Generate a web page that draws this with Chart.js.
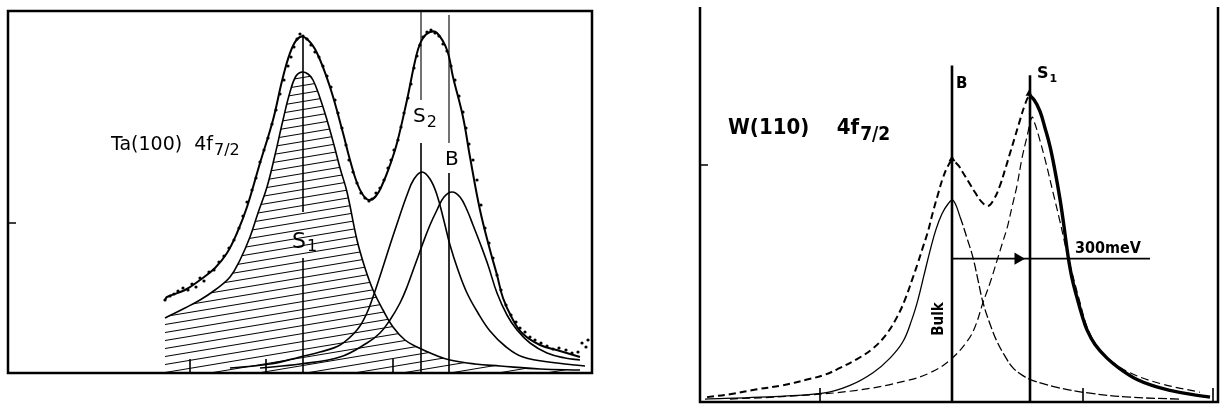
<!DOCTYPE html>
<html>
<head>
<meta charset="utf-8">
<script src="https://cdn.jsdelivr.net/npm/chart.js@4.4.0/dist/chart.umd.min.js"></script>
<style>
  body { margin: 0; background: #fff; }
  canvas { position: absolute; top: 0; }
  #taChart { left: 0; }
  #wChart { left: 690px; }
</style>
</head>
<body>
<canvas id="taChart" width="600" height="409"></canvas>
<canvas id="wChart" width="535" height="409"></canvas>
<script>
// Ta(100) 4f7/2 spectrum, [channel, counts]
const taEnvelope = [[157,73],[159,76],[177,83],[192,93],[207,105],[219,120],[229,140],[239,166],[252,210],[265,253],[275,296],[284,325],[292,336],[300,333],[309,320],[322,286],[335,240],[342,213],[349,190],[355,178],[361,173],[368,177],[375,190],[382,208],[389,230],[399,273],[409,320],[415,335],[422,341],[429,340],[439,323],[445,296],[455,256],[462,216],[472,163],[482,123],[489,98],[495,75],[504,55],[514,40],[532,28],[552,22],[572,16]];
const taS1 = [[157,55],[159,56],[177,65],[192,73],[207,83],[222,96],[232,113],[242,136],[250,160],[259,186],[267,218],[275,253],[282,281],[288,297],[294,301],[300,299],[305,293],[312,275],[319,253],[326,228],[332,205],[339,181],[349,133],[357,105],[365,83],[375,63],[385,46],[397,33],[409,26],[427,18],[442,13],[467,9],[492,7],[532,4],[572,3]];
const taS2 = [[222,5],[262,9],[292,16],[312,21],[332,28],[349,43],[358,58],[365,76],[374,103],[382,128],[390,152],[399,178],[406,194],[414,201],[422,194],[429,178],[436,152],[442,128],[450,103],[459,80],[470,60],[482,42],[497,27],[515,16],[549,10],[577,7]];
const taB = [[252,5],[292,9],[332,16],[359,30],[372,40],[382,53],[392,70],[399,86],[407,108],[415,130],[422,148],[429,163],[436,176],[444,181],[452,176],[459,163],[465,148],[472,130],[480,108],[489,80],[499,58],[509,43],[522,30],[539,20],[557,15],[572,13]];
const taDots = [[157,73],[162,77],[166,79],[170,82],[175,85],[180,83],[184,89],[188,86],[192,95],[196,92],[201,101],[206,103],[211,111],[216,117],[221,125],[226,133],[231,145],[235,157],[239,171],[244,183],[248,195],[252,211],[256,223],[260,235],[264,249],[268,263],[272,279],[276,293],[280,307],[283,316],[286,326],[289,334],[292,339],[295,337],[299,334],[303,328],[307,321],[311,316],[315,307],[319,297],[323,286],[327,273],[330,260],[334,245],[338,228],[341,213],[345,201],[349,190],[353,180],[357,175],[361,172],[364,174],[368,180],[372,185],[376,193],[380,205],[383,213],[386,223],[390,233],[393,246],[396,260],[400,275],[403,289],[406,305],[409,317],[412,328],[415,336],[419,341],[423,343],[427,340],[431,337],[435,329],[439,322],[443,307],[447,293],[451,277],[455,261],[458,245],[461,229],[465,213],[469,193],[473,168],[477,145],[481,130],[485,115],[489,98],[493,83],[498,68],[503,58],[508,51],[512,45],[517,41],[522,36],[527,33],[533,30],[539,27],[545,24],[551,25],[558,23],[564,20],[570,21],[574,30],[578,26],[580,33]];
// peak marker lines: channel, then [top, bottom] pieces in counts
const taPeakNames = ['S1', 'S2', 'B'];
const taPeakChannels = [295, 413, 441];
const taPeakPieces = [[[336,161],[115,0]], [[362,273],[230,0]], [[358,230],[200,0]]];
const taTicksX = [182, 258, 385];
const taTicksY = [150];

// W(110) 4f7/2 spectrum
const wEnvelope = [[7,5],[30,8],[57,13],[82,17],[107,23],[125,28],[140,35],[157,44],[173,55],[186,69],[197,87],[205,105],[212,125],[218,143],[223,159],[228,175],[233,195],[238,213],[243,230],[248,242],[252,247],[258,243],[263,235],[269,225],[275,215],[281,206],[288,201],[294,208],[300,222],[305,238],[310,255],[315,272],[320,289],[325,305],[329,313],[334,310],[340,298],[345,281],[350,262],[355,237],[360,208],[364,180],[368,150],[372,127],[377,107],[382,89],[387,74],[395,59],[407,45],[420,34],[437,23],[455,16],[470,12],[490,8],[510,5]];
const wBulk = [[5,3],[60,5],[123,9],[150,17],[173,30],[190,45],[203,62],[212,85],[218,105],[224,130],[230,155],[236,177],[242,193],[248,203],[253,207],[260,190],[267,168],[273,148],[278,125],[283,102],[290,80],[297,62],[305,47],[313,35],[323,27],[333,22],[357,15],[390,9],[430,5],[480,3]];
const wS1 = [[30,3],[90,6],[157,12],[207,22],[230,30],[250,43],[267,62],[275,77],[283,102],[290,122],[297,145],[303,165],[307,178],[312,200],[317,222],[322,250],[327,272],[332,292],[335,285],[340,268],[346,245],[353,215],[360,185],[367,153],[374,125],[380,102],[387,77],[397,57],[410,43],[430,30],[460,19],[500,10]];
const wPeakChannels = [252, 330];
const wPeakTops = [345, 335];
const wShift = [252, 450];   // 300 meV bar, from B to beyond S1
const wShiftLevel = 147;
const wTicksX = [120, 383, 513];
const wTicksY = [243];

function pts(arr) {
    return arr.map(p => ({ x: p[0], y: p[1] }));
}

function hatchPattern() {
    const c = document.createElement('canvas');
    c.width = 48; c.height = 8;
    const g = c.getContext('2d');
    g.strokeStyle = '#000';
    g.lineWidth = 1;
    g.beginPath();
    for (let k = -1; k <= 1; k++) {
        g.moveTo(0, 8 + k * 8);
        g.lineTo(48, k * 8);
    }
    g.stroke();
    return g.createPattern(c, 'repeat');
}

// frame, ticks and hand lettering
const framePlugin = {
    id: 'frame',
    afterDraw(chart, args, opts) {
        const { ctx, chartArea: a, scales: { x, y } } = chart;
        ctx.save();
        ctx.strokeStyle = '#000';
        ctx.fillStyle = '#000';
        ctx.lineWidth = 2.5;
        ctx.beginPath();
        if (opts.top) {
            ctx.rect(a.left, a.top, a.right - a.left, a.bottom - a.top);
        } else {
            ctx.moveTo(a.left, a.top);
            ctx.lineTo(a.left, a.bottom);
            ctx.lineTo(a.right, a.bottom);
            ctx.lineTo(a.right, a.top);
        }
        ctx.stroke();

        ctx.lineWidth = 1.6;
        ctx.beginPath();
        opts.ticksX.forEach(v => {
            const px = x.getPixelForValue(v);
            ctx.moveTo(px, a.bottom);
            ctx.lineTo(px, a.bottom - 14);
        });
        opts.ticksY.forEach(v => {
            const py = y.getPixelForValue(v);
            ctx.moveTo(a.left, py);
            ctx.lineTo(a.left + 8, py);
        });
        ctx.stroke();

        opts.labels.forEach(l => {
            const px = x.getPixelForValue(l.x);
            const py = y.getPixelForValue(l.y);
            ctx.save();
            ctx.translate(px, py);
            if (l.rotate) ctx.rotate(l.rotate);
            ctx.font = l.font;
            ctx.textAlign = 'left';
            ctx.textBaseline = 'alphabetic';
            ctx.fillText(l.text, 0, 0);
            if (l.sub) {
                const w = ctx.measureText(l.text).width;
                ctx.font = l.subFont || l.font;
                ctx.fillText(l.sub, w + 1, l.subDrop || 5);
            }
            ctx.restore();
        });
        ctx.restore();
    }
};

function baseOptions(pad, xMax, yMax, frame) {
    return {
        responsive: false,
        animation: false,
        devicePixelRatio: 1,
        layout: { padding: pad },
        plugins: { legend: { display: false }, tooltip: { enabled: false }, frame },
        scales: {
            x: { type: 'linear', min: 0, max: xMax, display: false },
            y: { type: 'linear', min: 0, max: yMax, display: false }
        }
    };
}

function curve(data, width, extra) {
    return Object.assign({
        data: pts(data),
        showLine: true,
        borderColor: '#000',
        borderWidth: width,
        pointRadius: 0,
        tension: 0.4,
        fill: false
    }, extra || {});
}

// 1. Ta(100)
const taSets = [
    curve(taEnvelope, 2),
    { data: pts(taDots), showLine: false, pointRadius: 1.6, pointBackgroundColor: '#000', pointBorderWidth: 0 },
    curve(taS2, 1.6),
    curve(taB, 1.6),
    curve(taS1, 1.6, { fill: 'origin', backgroundColor: hatchPattern() })
];
taPeakChannels.forEach((c, i) => {
    taPeakPieces[i].forEach(([top, bottom], j) => {
        taSets.push(curve([[c, top], [c, bottom]], i === 0 || j === 1 ? 1.6 : 1.1, { tension: 0 }));
    });
});

new Chart(document.getElementById('taChart'), {
    type: 'scatter',
    data: { datasets: taSets },
    plugins: [framePlugin],
    options: baseOptions({ left: 8, top: 11, right: 8, bottom: 36 }, 584, 362, {
        top: true,
        ticksX: taTicksX,
        ticksY: taTicksY,
        labels: [
            { text: 'Ta(100)  4f', sub: '7/2', x: 103, y: 223, font: '19px "DejaVu Sans"', subFont: '16px "DejaVu Sans"', subDrop: 5 },
            { text: 'S', sub: '1', x: 284, y: 125, font: '22px "DejaVu Sans"', subFont: '16px "DejaVu Sans"', subDrop: 3 },
            { text: 'S', sub: '2', x: 405, y: 251, font: '20px "DejaVu Sans"', subFont: '16px "DejaVu Sans"', subDrop: 5 },
            { text: 'B', x: 437, y: 208, font: '20px "DejaVu Sans"' }
        ]
    })
});

// 2. W(110)
const wSets = [
    curve(wEnvelope, 3.4, {
        segment: {
            borderDash: ctx => ctx.p0.parsed.x < 329 ? [7, 4] : undefined,
            borderWidth: ctx => ctx.p0.parsed.x < 329 ? 2 : undefined
        }
    }),
    curve(wBulk, 1.3, {
        segment: { borderDash: ctx => ctx.p0.parsed.x > 253 ? [9, 3] : undefined }
    }),
    curve(wS1, 1.2, { borderDash: [8, 4] }),
    curve([[wShift[0], wShiftLevel], [wShift[1], wShiftLevel]], 1.8, { tension: 0 }),
    { data: [{ x: 318, y: wShiftLevel }], showLine: false, pointStyle: 'triangle', rotation: 90, pointRadius: 7, pointBackgroundColor: '#000', pointBorderWidth: 0 },
    { data: [{ x: 252, y: 249 }, { x: 329, y: 316 }], showLine: false, pointStyle: 'triangle', pointRadius: 4, pointBackgroundColor: '#000', pointBorderWidth: 0 }
];
wPeakChannels.forEach((c, i) => {
    wSets.push(curve([[c, wPeakTops[i]], [c, 0]], 2.6, { tension: 0 }));
});

new Chart(document.getElementById('wChart'), {
    type: 'scatter',
    data: { datasets: wSets },
    plugins: [framePlugin],
    options: baseOptions({ left: 10, top: 0, right: 7, bottom: 4 }, 518, 405, {
        top: false,
        ticksX: wTicksX,
        ticksY: wTicksY,
        labels: [
            { text: 'W(110)    4f', sub: '7/2', x: 28, y: 275, font: 'bold 22px "DejaVu Sans Condensed", "DejaVu Sans"', subFont: 'bold 19px "DejaVu Sans Condensed", "DejaVu Sans"', subDrop: 6 },
            { text: 'B', x: 256, y: 322, font: 'bold 15px "DejaVu Sans"' },
            { text: 'S', sub: '1', x: 337, y: 332, font: 'bold 16px "DejaVu Sans"', subFont: 'bold 11px "DejaVu Sans"', subDrop: 4 },
            { text: '300meV', x: 375, y: 153, font: 'bold 16px "DejaVu Sans Condensed", "DejaVu Sans"' },
            { text: 'Bulk', x: 243, y: 68, rotate: -Math.PI / 2, font: 'bold 15px "DejaVu Sans Condensed", "DejaVu Sans"' }
        ]
    })
});
</script>
</body>
</html>
